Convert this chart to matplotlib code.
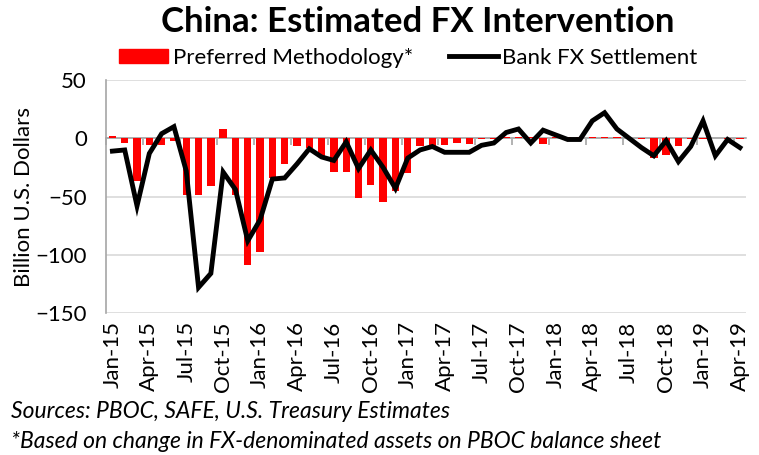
import numpy as np
import matplotlib.pyplot as plt
from matplotlib.lines import Line2D
from matplotlib.patches import Patch

plt.rcParams['font.family'] = ['Lato', 'DejaVu Sans']

# Monthly data, Jan-15 .. Apr-19 (billion USD)
months = ['Jan-15', 'Feb-15', 'Mar-15', 'Apr-15', 'May-15', 'Jun-15', 'Jul-15', 'Aug-15',
          'Sep-15', 'Oct-15', 'Nov-15', 'Dec-15', 'Jan-16', 'Feb-16', 'Mar-16', 'Apr-16',
          'May-16', 'Jun-16', 'Jul-16', 'Aug-16', 'Sep-16', 'Oct-16', 'Nov-16', 'Dec-16',
          'Jan-17', 'Feb-17', 'Mar-17', 'Apr-17', 'May-17', 'Jun-17', 'Jul-17', 'Aug-17',
          'Sep-17', 'Oct-17', 'Nov-17', 'Dec-17', 'Jan-18', 'Feb-18', 'Mar-18', 'Apr-18',
          'May-18', 'Jun-18', 'Jul-18', 'Aug-18', 'Sep-18', 'Oct-18', 'Nov-18', 'Dec-18',
          'Jan-19', 'Feb-19', 'Mar-19', 'Apr-19']

preferred = [2, -4, -37, -6, -6, -2, -49, -49, -41, 8, -49, -109, -98, -34, -22, -7,
             -8, -15, -29, -29, -51, -40, -55, -45, -30, -7, -7, -6, -4, -5, -1, -1,
             1, 1, 1, -5, 1, 1, 1, 1, 1, 1, 0, -1, -17, -14, -7, -1,
             -1, 0, -1, -1]

settlement = [-11, -10, -58, -13, 4, 10, -28, -128, -116, -29, -44, -88, -70, -35, -34, -22,
              -9, -16, -19, -3, -26, -10, -25, -43, -17, -10, -7, -12, -12, -12, -6, -4,
              5, 8, -4, 7, 3, -1, -1, 15, 22, 8, 0, -8, -15, -2, -20, -7,
              15, -15, -1, -8]

x = np.arange(len(months))

fig = plt.figure(figsize=(7.59, 4.55), dpi=100)
ax = fig.add_axes([0.14, 0.312, 0.843, 0.512])

ax.bar(x, preferred, width=0.6, color='#ff0000', zorder=3)
ax.plot(x, settlement, color='black', lw=3.5, zorder=4, solid_joinstyle='miter')

ax.set_xlim(-0.5, len(months) - 0.5)
ax.set_ylim(-150, 50)
ax.set_yticks([50, 0, -50, -100, -150])
ax.tick_params(axis='y', length=0, labelsize=16, pad=14)
ax.yaxis.grid(True, color='#d9d9d9', lw=1.2, zorder=0)
ax.set_ylabel('Billion U.S. Dollars', fontsize=16, labelpad=1)

# category axis crosses at zero, tick marks every 3 months
for s in ['top', 'right']:
    ax.spines[s].set_visible(False)
ax.spines['left'].set_color('#a6a6a6')
ax.spines['left'].set_linewidth(1.2)
ax.spines['bottom'].set_position(('data', 0))
ax.spines['bottom'].set_color('#a6a6a6')
ax.spines['bottom'].set_linewidth(1.2)
ax.spines['bottom'].set_zorder(2)
ax.set_xticks(x[::3] - 0.5)
ax.set_xticklabels([])
ax.tick_params(axis='x', length=5, width=1.2, color='#a6a6a6', direction='out')

sec = ax.secondary_xaxis(location=0)
sec.set_xticks(x[::3])
sec.set_xticklabels(months[::3], rotation=90, fontsize=16)
sec.tick_params(length=0, pad=6)
sec.spines['bottom'].set_visible(False)

fig.text(0.55, 0.952, 'China: Estimated FX Intervention', ha='center', va='center',
         fontsize=25, fontweight='bold')

handles = [Patch(color='#ff0000'), Line2D([0], [0], color='black', lw=3.5)]
fig.legend(handles, ['Preferred Methodology*', 'Bank FX Settlement'], ncol=2,
           loc='center', bbox_to_anchor=(0.538, 0.873), frameon=False, fontsize=16,
           handlelength=2.2, handleheight=0.6, handletextpad=0.2, columnspacing=1.6)

fig.text(0.015, 0.095, 'Sources: PBOC, SAFE, U.S. Treasury Estimates', fontsize=16.5,
         style='italic', va='center')
fig.text(0.015, 0.030, '*Based on change in FX-denominated assets on PBOC balance sheet',
         fontsize=16.5, style='italic', va='center')

fig.savefig('out.png', dpi=100)
